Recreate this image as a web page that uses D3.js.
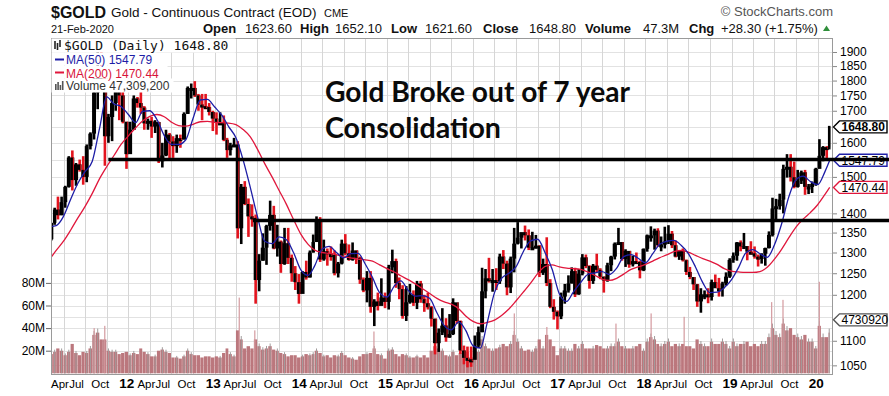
<!DOCTYPE html>
<html>
<head>
<meta charset="utf-8">
<script src="https://cdn.jsdelivr.net/npm/d3@7"></script>
<style>
  body { margin: 0; background: #fff; }
  svg { display: block; font-family: Arial, "Liberation Sans", sans-serif; }
</style>
</head>
<body>
<div id="chart"></div>
<script>
// price bars, one per half month (1st-15th, 16th-end) from Feb 2011 to 21 Feb 2020
var firstMonth = new Date(2011, 1, 1);
var lastDay = new Date(2020, 1, 21);
var openFirst = 1333;

var highs = [
  1375,1415, 1445,1445, 1475,1560, 1577,1540, 1550,1560, 1595,1632, 1815,1917, 1923,1830, 1690,1750, 1803,1780, 1765,1665,
  1665,1750, 1745,1792, 1715,1675, 1680,1670, 1665,1600, 1640,1630, 1620,1625, 1625,1695, 1780,1790, 1798,1755, 1755,1755, 1725,1700,
  1695,1695, 1685,1615, 1600,1615, 1605,1480, 1488,1440, 1424,1397, 1296,1348, 1370,1434, 1420,1370, 1330,1362, 1362,1295, 1267,1248,
  1255,1280, 1305,1345, 1392,1390, 1332,1310, 1315,1305, 1277,1332, 1346,1320, 1325,1305, 1290,1240, 1255,1255, 1190,1205, 1238,1205,
  1270,1307, 1285,1240, 1222,1220, 1225,1210, 1232,1232, 1200,1205, 1175,1147, 1126,1170, 1148,1157, 1192,1180, 1143,1090, 1088,1088,
  1111,1130, 1263,1260, 1287,1260, 1262,1297, 1306,1280, 1290,1362, 1377,1350, 1368,1358, 1352,1344, 1318,1285, 1338,1236, 1190,1165,
  1205,1225, 1245,1264, 1263,1260, 1296,1295, 1269,1272, 1297,1262, 1242,1275, 1292,1325, 1362,1325, 1308,1300, 1292,1300, 1280,1310,
  1345,1366, 1360,1361, 1340,1365, 1369,1354, 1330,1306, 1310,1283, 1265,1240, 1225,1215, 1210,1215, 1235,1247, 1239,1230, 1252,1286,
  1300,1326, 1330,1349, 1312,1328, 1315,1295, 1298,1312, 1353,1442, 1439,1453, 1535,1566, 1566,1544, 1520,1518, 1520,1480, 1487,1526,
  1611,1590, 1590,1652.1
];
var lows = [
  1330,1370, 1384,1395, 1415,1470, 1462,1475, 1515,1478, 1485,1580, 1610,1705, 1780,1532, 1600,1605, 1700,1670, 1660,1523,
  1590,1640, 1710,1690, 1640,1640, 1615,1630, 1540,1527, 1560,1550, 1555,1570, 1585,1610, 1690,1740, 1745,1700, 1670,1705, 1685,1636,
  1625,1655, 1605,1555, 1562,1590, 1335,1321, 1422,1339, 1365,1180, 1208,1280, 1270,1355, 1308,1290, 1251,1270, 1272,1230, 1211,1180,
  1211,1235, 1240,1300, 1330,1277, 1280,1268, 1280,1245, 1240,1271, 1293,1280, 1280,1272, 1225,1206, 1183,1160, 1131,1165, 1180,1170,
  1167,1250, 1216,1190, 1147,1142, 1180,1175, 1168,1182, 1162,1167, 1130,1072, 1077,1112, 1098,1106, 1112,1136, 1073,1052, 1046,1047,
  1063,1085, 1118,1192, 1228,1207, 1211,1225, 1260,1199, 1204,1252, 1320,1310, 1330,1306, 1306,1310, 1241,1246, 1220,1170, 1145,1124,
  1146,1180, 1205,1226, 1195,1200, 1245,1262, 1214,1225, 1253,1236, 1205,1230, 1255,1283, 1320,1280, 1265,1263, 1266,1275, 1238,1255,
  1302,1327, 1307,1314, 1303,1310, 1321,1311, 1288,1282, 1278,1246, 1236,1211, 1173,1160, 1190,1181, 1187,1218, 1196,1196, 1221,1239,
  1275,1280, 1303,1312, 1281,1295, 1285,1266, 1273,1268, 1310,1340, 1382,1410, 1400,1498, 1487,1468, 1470,1480, 1450,1452, 1455,1475,
  1525,1545, 1548,1580
];
var closes = [
  1375,1410, 1395,1430, 1472,1556, 1491,1536, 1520,1500, 1590,1628, 1760,1828, 1800,1620, 1680,1725, 1780,1750, 1665,1566,
  1640,1740, 1725,1710, 1660,1668, 1650,1664, 1545,1562, 1625,1604, 1590,1614, 1610,1690, 1775,1775, 1750,1720, 1715,1712, 1696,1675,
  1662,1663, 1609,1578, 1592,1595, 1361,1472, 1425,1392, 1388,1234, 1280,1312, 1367,1396, 1310,1327, 1272,1323, 1287,1250, 1229,1202,
  1253,1240, 1300,1326, 1380,1283, 1303,1296, 1294,1250, 1273,1322, 1298,1282, 1305,1287, 1235,1210, 1239,1173, 1185,1175, 1194,1184,
  1264,1279, 1227,1213, 1153,1183, 1200,1182, 1226,1190, 1181,1172, 1147,1095, 1117,1132, 1107,1114, 1183,1142, 1080,1065, 1062,1061,
  1090,1118, 1208,1238, 1234,1234, 1231,1290, 1273,1217, 1285,1322, 1337,1351, 1343,1312, 1313,1317, 1251,1272, 1227,1173, 1162,1152,
  1196,1210, 1226,1255, 1201,1249, 1288,1267, 1232,1268, 1258,1242, 1233,1269, 1290,1322, 1326,1284, 1304,1271, 1279,1277, 1257,1309,
  1343,1343, 1355,1318, 1320,1327, 1347,1318, 1290,1305, 1281,1253, 1241,1224, 1185,1201, 1201,1195, 1229,1215, 1214,1226, 1242,1282,
  1292,1325, 1315,1316, 1302,1298, 1290,1284, 1297,1311, 1344,1413, 1419,1437, 1523,1529, 1499,1472, 1489,1513, 1472,1473, 1480,1523,
  1561,1587, 1586,1648.8
];
// average daily volume in each half month, millions
var volumes = [
  17,19, 22,20, 16,19, 26,18, 16,19, 18,22, 34,36, 30,30, 20,19, 19,17, 18,19,
  16,18, 17,22, 19,17, 15,15, 20,21, 19,18, 14,14, 13,15, 20,17, 16,16, 14,15, 15,14,
  15,14, 18,22, 17,15, 38,30, 22,24, 22,30, 24,21, 22,24, 21,20, 18,17, 15,16, 16,14,
  15,17, 16,17, 20,18, 15,16, 14,16, 15,18, 16,14, 13,12, 15,17, 17,18, 22,17, 16,13,
  20,21, 17,15, 17,16, 14,14, 15,14, 16,14, 20,24, 22,20, 16,15, 19,16, 18,17, 19,14,
  20,19, 30,24, 22,20, 22,23, 26,24, 26,34, 28,22, 20,21, 19,22, 30,22, 34,30, 24,16,
  22,22, 20,20, 26,22, 26,22, 22,22, 25,24, 22,22, 24,24, 28,24, 22,22, 22,24, 26,20,
  28,32, 30,26, 24,26, 28,24, 26,24, 26,24, 24,22, 30,26, 24,24, 28,26, 26,28, 26,22,
  28,24, 26,26, 28,24, 26,24, 26,26, 32,40, 34,32, 44,38, 40,34, 32,30, 34,28, 28,22,
  42,32, 32,36
];

// single days with very high volume, millions
var spikeDates = ["2011-08-09","2011-09-23","2013-04-15","2013-06-20","2014-11-07","2016-06-24","2016-11-09",
                  "2017-08-29","2018-01-25","2018-06-14","2019-06-20","2019-08-07","2020-01-08"];
var spikeVols = [40, 42, 67, 38, 37, 53, 41, 44, 53, 50, 63, 65, 81];

// moving averages on the 1st of each month from Feb 2011, last value on 21 Feb 2020
var ma50 = [
  1365,1368,1392,1437,1482,1515,1545,1645,1745,1722,1714,
  1688,1662,1698,1700,1672,1622,1595,1595,1610,1675,1735,1737,
  1712,1685,1650,1615,1550,1470,1392,1328,1322,1339,1332,1300,
  1258,1245,1268,1308,1315,1300,1287,1297,1298,1272,1240,1205,
  1195,1220,1232,1210,1197,1198,1192,1160,1132,1123,1140,1122,
  1090,1085,1138,1205,1238,1250,1265,1302,1329,1333,1300,1260,
  1202,1185,1206,1228,1247,1251,1254,1247,1262,1290,1295,1286,
  1275,1297,1320,1328,1330,1318,1298,1265,1228,1205,1206,1216,
  1235,1265,1298,1307,1297,1288,1318,1372,1445,1492,1502,1487,
  1478,1515,1547.79
];
var ma200 = [
  1283,1305,1328,1356,1388,1418,1454,1495,1529,1562,1595,
  1621,1646,1667,1682,1688,1681,1664,1653,1651,1657,1665,1666,
  1663,1662,1661,1656,1641,1618,1581,1538,1500,1462,1424,1384,
  1346,1320,1306,1300,1298,1295,1290,1287,1284,1282,1279,1270,
  1261,1253,1244,1235,1225,1214,1203,1192,1184,1179,1169,1153,
  1141,1136,1139,1144,1154,1168,1186,1206,1227,1249,1266,1270,
  1265,1262,1261,1259,1253,1245,1236,1233,1238,1248,1259,1265,
  1271,1279,1287,1294,1302,1305,1301,1293,1285,1279,1271,1261,
  1255,1253,1252,1252,1254,1264,1283,1308,1337,1364,1385,1402,
  1423,1451,1470.44
];

// gridlines every 50; the labels hidden under the value tags are left out
var priceGrid = [1050,1100,1150,1200,1250,1300,1350,1400,1450,1500,1550,1600,1650,1700,1750,1800,1850,1900];
var priceTicks = [1050,1100,1200,1250,1300,1350,1400,1500,1600,1700,1750,1800,1850,1900];
var volTicks = [20, 40, 60, 80];
var monthLabels = {3: "Apr", 6: "Jul", 9: "Oct"};

// the two breakout lines drawn on the chart
var levelPrices = [1550, 1381];
var levelStarts = ["2011-10-08", "2013-06-12"];

// set dimensions and margins of the graph
var W = 889, H = 396;
var margin = {top: 38, right: 56, bottom: 21, left: 51},
    width = W - margin.left - margin.right,
    height = H - margin.top - margin.bottom;

var parse = d3.timeParse("%Y-%m-%d");

var x = d3.scaleTime()
    .domain([new Date(2011, 1, 7), new Date(2020, 2, 6)])
    .range([0, width]);
var y = d3.scaleLog()
    .domain([1031, 1951])
    .range([height, 0]);
var v = d3.scaleLinear()
    .domain([0, 100])
    .range([height - 1.7, height - 114.7]);

var bars = highs.map(function(h, i) {
  var m = Math.floor(i / 2), second = i % 2;
  var start = new Date(2011, 1 + m, second ? 16 : 1);
  var end = second ? new Date(2011, 2 + m, 1) : new Date(2011, 1 + m, 16);
  if (end > lastDay) end = d3.timeDay.offset(lastDay, 1);
  return {start: start, end: end, high: h, low: lows[i], close: closes[i],
          open: i ? closes[i - 1] : openFirst, vol: volumes[i]};
});

function maPoints(values) {
  return values.map(function(val, i) {
    var date = i < values.length - 1 ? new Date(2011, 1 + i, 1) : lastDay;
    return {date: date, value: val};
  });
}

var svg = d3.select("#chart").append("svg")
    .attr("width", W)
    .attr("height", H);

svg.append("rect").attr("width", W).attr("height", H).attr("fill", "#fff");

var plot = svg.append("g")
    .attr("transform", "translate(" + margin.left + "," + margin.top + ")");

plot.append("clipPath").attr("id", "clip")
  .append("rect").attr("width", width).attr("height", height);

// grid
var quarters = d3.timeMonths(new Date(2011, 3, 1), new Date(2020, 0, 2), 3);
var grid = plot.append("g").attr("clip-path", "url(#clip)");
grid.selectAll(".hp").data(priceGrid).enter().append("line")
    .attr("x1", 0).attr("x2", width)
    .attr("y1", function(d) { return Math.round(y(d)) + 0.5; })
    .attr("y2", function(d) { return Math.round(y(d)) + 0.5; })
    .attr("stroke", "#e2e2e2");
grid.selectAll(".hv").data(volTicks).enter().append("line")
    .attr("x1", 0).attr("x2", width)
    .attr("y1", function(d) { return Math.round(v(d)) + 0.5; })
    .attr("y2", function(d) { return Math.round(v(d)) + 0.5; })
    .attr("stroke", "#e2e2e2");
grid.selectAll(".vq").data(quarters).enter().append("line")
    .attr("x1", function(d) { return Math.round(x(d)) + 0.5; })
    .attr("x2", function(d) { return Math.round(x(d)) + 0.5; })
    .attr("y1", 0).attr("y2", height)
    .attr("stroke", "#d6d6d6");

var body = plot.append("g").attr("clip-path", "url(#clip)");

// volume
body.selectAll(".vol").data(bars).enter().append("rect")
    .attr("x", function(d) { return x(d.start); })
    .attr("width", function(d) { return Math.max(0.5, x(d.end) - x(d.start) - 0.3); })
    .attr("y", function(d) { return v(d.vol); })
    .attr("height", function(d) { return v(0) - v(d.vol); })
    .attr("fill", "#bb777d");
body.selectAll(".volup").data(bars.filter(function(d) { return d.close >= d.open; })).enter().append("rect")
    .attr("x", function(d) { return (x(d.start) + x(d.end)) / 2 - 0.5; })
    .attr("width", 1)
    .attr("y", function(d) { return v(d.vol * 1.1); })
    .attr("height", function(d) { return v(0) - v(d.vol * 1.1); })
    .attr("fill", "#a19c9c");
body.selectAll(".spike").data(spikeDates).enter().append("rect")
    .attr("x", function(d) { return x(parse(d)) - 0.6; })
    .attr("width", 1.2)
    .attr("y", function(d, i) { return v(spikeVols[i]); })
    .attr("height", function(d, i) { return v(0) - v(spikeVols[i]); })
    .attr("fill", "#d49a9f");

// price bars: a high-low stroke and an open-close block filling the half month
var pb = body.selectAll(".bar").data(bars).enter().append("g");
pb.append("rect")
    .attr("x", function(d) { return (x(d.start) + x(d.end)) / 2 - 1.3; })
    .attr("width", 2.6)
    .attr("y", function(d) { return y(d.high); })
    .attr("height", function(d) { return y(d.low) - y(d.high); })
    .attr("fill", function(d) { return d.close < d.open ? "#e3141e" : "#000"; });
pb.append("rect")
    .attr("x", function(d) { return x(d.start) - 0.2; })
    .attr("width", function(d) { return Math.max(1, x(d.end) - x(d.start) + 0.4); })
    .attr("y", function(d) { return y(Math.max(d.open, d.close)); })
    .attr("height", function(d) { return Math.max(3, y(Math.min(d.open, d.close)) - y(Math.max(d.open, d.close))); })
    .attr("fill", "#000");
pb.filter(function(d) { return d.close < d.open; }).append("rect")
    .attr("x", function(d) { return x(d.end) - 1.2; })
    .attr("width", 1)
    .attr("y", function(d) { return y(d.open); })
    .attr("height", function(d) { return Math.max(2, y(d.close) - y(d.open)); })
    .attr("fill", "#e3141e");

// moving averages
var line = d3.line()
    .x(function(d) { return x(d.date); })
    .y(function(d) { return y(d.value); })
    .curve(d3.curveMonotoneX);
body.append("path").datum(maPoints(ma200))
    .attr("d", line).attr("fill", "none").attr("stroke", "#e0173c").attr("stroke-width", 1.3);
body.append("path").datum(maPoints(ma50))
    .attr("d", line).attr("fill", "none").attr("stroke", "#1d1da6").attr("stroke-width", 1.3);

// plot border
plot.append("rect").attr("x", 0.5).attr("y", 0.5).attr("width", width - 1).attr("height", height - 1)
    .attr("fill", "none").attr("stroke", "#9a9a9a");

// x axis
var xAxis = plot.append("g")
    .attr("transform", "translate(0," + height + ")")
    .call(d3.axisBottom(x).tickValues(quarters).tickSize(0).tickPadding(5)
      .tickFormat(function(d) { return d.getMonth() === 0 ? d3.timeFormat("%y")(d) : monthLabels[d.getMonth()]; }));
xAxis.select(".domain").remove();
xAxis.selectAll("text")
    .attr("fill", "#000")
    .style("font-family", "Arial, 'Liberation Sans', sans-serif")
    .style("font-size", function(d) { return d.getMonth() === 0 ? "13.5px" : "11.5px"; })
    .style("font-weight", function(d) { return d.getMonth() === 0 ? "bold" : "normal"; })
    .attr("dx", function(d) { return {0: -2, 3: -4, 6: -9, 9: -7}[d.getMonth()]; })
    .attr("dy", function(d) { return d.getMonth() === 0 ? "0.62em" : "0.71em"; });

// price axis on the right
var yAxis = plot.append("g")
    .attr("transform", "translate(" + width + ",0)")
    .call(d3.axisRight(y).tickValues(priceTicks).tickSize(4).tickPadding(3).tickFormat(d3.format("d")));
yAxis.select(".domain").remove();
yAxis.selectAll("line").attr("stroke", "#888");
yAxis.selectAll("text").attr("fill", "#000")
    .style("font-family", "Arial, 'Liberation Sans', sans-serif").style("font-size", "12px");

// volume axis on the left
var vAxis = plot.append("g")
    .call(d3.axisLeft(v).tickValues(volTicks).tickSize(5).tickPadding(1)
      .tickFormat(function(d) { return d + "M"; }));
vAxis.select(".domain").remove();
vAxis.selectAll("line").attr("stroke", "#666");
vAxis.selectAll("text").attr("fill", "#000")
    .style("font-family", "Arial, 'Liberation Sans', sans-serif").style("font-size", "12px");

// legend, each line on its own white box
var lg = svg.append("g");
lg.append("rect").attr("x", 51.5).attr("y", 38.5).attr("width", 184).attr("height", 14).attr("fill", "#fff");
lg.append("rect").attr("x", 51.5).attr("y", 52.5).attr("width", 105).attr("height", 13).attr("fill", "#fff");
lg.append("rect").attr("x", 51.5).attr("y", 65.5).attr("width", 116).attr("height", 13).attr("fill", "#fff");
lg.append("rect").attr("x", 51.5).attr("y", 78.5).attr("width", 122).attr("height", 14).attr("fill", "#fff");
[[55, 41, 49], [57.5, 43, 50], [60, 40, 47]].forEach(function(b) {
  lg.append("line").attr("x1", b[0]).attr("x2", b[0]).attr("y1", b[1]).attr("y2", b[2])
    .attr("stroke", "#222").attr("stroke-width", 1.6);
});
lg.append("text").attr("x", 64).attr("y", 49.5)
    .style("font-family", "'DejaVu Sans Mono', monospace").style("font-size", "13px")
    .attr("fill", "#111").text("$GOLD (Daily) 1648.80");
lg.append("line").attr("x1", 55).attr("x2", 64).attr("y1", 59.5).attr("y2", 59.5)
    .attr("stroke", "#1d1da6").attr("stroke-width", 2);
lg.append("text").attr("x", 66).attr("y", 64).style("font-size", "12px")
    .attr("fill", "#1d1da6").text("MA(50) 1547.79");
lg.append("line").attr("x1", 55).attr("x2", 64).attr("y1", 72.5).attr("y2", 72.5)
    .attr("stroke", "#e0173c").attr("stroke-width", 2);
lg.append("text").attr("x", 66).attr("y", 77.5).style("font-size", "12px")
    .attr("fill", "#d8143a").text("MA(200) 1470.44");
[[55, 84], [57.3, 82], [59.6, 85], [61.9, 81]].forEach(function(b) {
  lg.append("rect").attr("x", b[0]).attr("y", b[1]).attr("width", 1.6).attr("height", 90 - b[1])
    .attr("fill", "#555");
});
lg.append("text").attr("x", 66).attr("y", 90).style("font-size", "12px")
    .attr("fill", "#333").text("Volume 47,309,200");

// value tags on the right axis
function tag(yPos, label, stroke, bold) {
  var g = svg.append("g");
  var x0 = margin.left + width + 0.5, x1 = 887;
  g.append("path")
      .attr("d", "M" + x0 + "," + yPos + "L" + (x0 + 6) + "," + (yPos - 6) + "L" + x1 + "," + (yPos - 6) +
                 "L" + x1 + "," + (yPos + 6) + "L" + (x0 + 6) + "," + (yPos + 6) + "Z")
      .attr("fill", "#fff").attr("stroke", stroke).attr("stroke-width", 1.4);
  g.append("text").attr("x", x0 + 8).attr("y", yPos + 4.2)
      .style("font-size", "12px").style("font-weight", bold ? "bold" : "normal")
      .attr("fill", "#000").text(label);
}
tag(margin.top + y(closes[closes.length - 1]), "1648.80", "#000", true);
tag(margin.top + y(ma50[ma50.length - 1]), "1547.79", "#2020a8", false);
tag(margin.top + y(ma200[ma200.length - 1]), "1470.44", "#e0173c", false);
tag(margin.top + v(47.3), "4730920", "#555", false);

// breakout lines
levelPrices.forEach(function(p, i) {
  svg.append("line")
      .attr("x1", margin.left + x(parse(levelStarts[i]))).attr("x2", W)
      .attr("y1", margin.top + y(p)).attr("y2", margin.top + y(p))
      .attr("stroke", "#000").attr("stroke-width", 3.5);
});

// annotation
var note = svg.append("g")
    .style("font-family", "Lato, 'Open Sans', sans-serif").style("font-weight", "bold")
    .style("font-size", "28px").attr("fill", "#0a0a0a");
note.append("text").attr("x", 325).attr("y", 102)
    .attr("textLength", 305).attr("lengthAdjust", "spacingAndGlyphs").text("Gold Broke out of 7 year");
note.append("text").attr("x", 325).attr("y", 138)
    .attr("textLength", 176).attr("lengthAdjust", "spacingAndGlyphs").text("Consolidation");

// header
svg.append("text").attr("x", 51).attr("y", 17.5)
    .style("font-size", "16px").style("font-weight", "bold").attr("fill", "#111").text("$GOLD");
svg.append("text").attr("x", 111).attr("y", 17)
    .style("font-size", "13.5px").attr("fill", "#111").text("Gold - Continuous Contract (EOD)");
svg.append("text").attr("x", 324).attr("y", 17)
    .style("font-size", "11px").attr("fill", "#111").text("CME");
svg.append("text").attr("x", 833).attr("y", 16).attr("text-anchor", "end")
    .style("font-size", "13px").attr("fill", "#555").text("\u00a9 StockCharts.com");
svg.append("text").attr("x", 51).attr("y", 33)
    .style("font-size", "11px").attr("fill", "#111").text("21-Feb-2020");

var quote = [["Open", 203, true], ["1623.60", 245, false], ["High", 300, true], ["1652.10", 335, false],
             ["Low", 391, true], ["1621.60", 425, false], ["Close", 483, true], ["1648.80", 529, false],
             ["Volume", 585, true], ["47.3M", 643, false], ["Chg", 689, true], ["+28.30 (+1.75%)", 721, false]];
quote.forEach(function(q) {
  svg.append("text").attr("x", q[1]).attr("y", 33)
      .style("font-size", "13px").style("font-weight", q[2] ? "bold" : "normal")
      .attr("fill", "#111").text(q[0]);
});
svg.append("path").attr("d", "M823,31L830,31L826.5,25.5Z").attr("fill", "#2f8f3a");
</script>
</body>
</html>
